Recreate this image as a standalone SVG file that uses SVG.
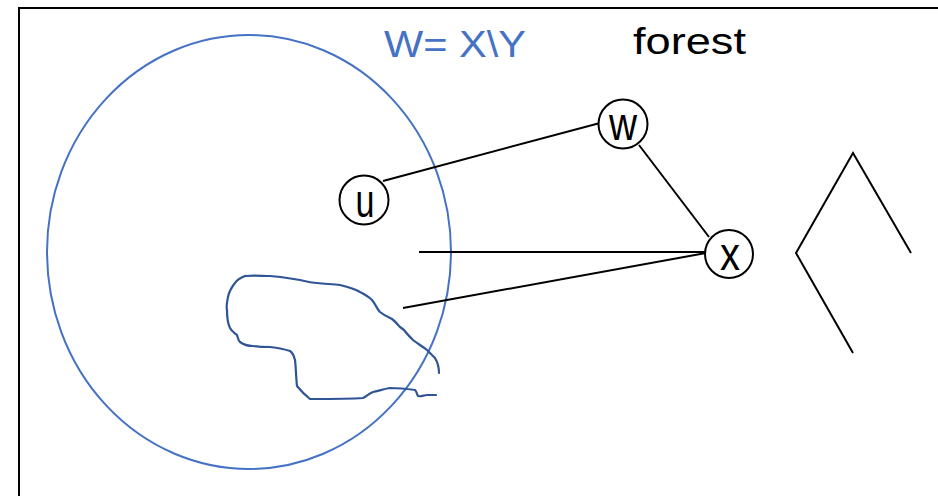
<svg xmlns="http://www.w3.org/2000/svg" width="938" height="496" viewBox="0 0 938 496">
<style>
.edge{stroke:#000;stroke-width:2;fill:none}
.node circle{fill:#fff;stroke:#000;stroke-width:2}
.node text{font-family:"Liberation Sans",Arial,sans-serif;font-size:46px;text-anchor:middle;fill:#000}
.lbl{font-family:"Liberation Sans",Arial,sans-serif;font-size:36px}
</style>
<rect x="0" y="0" width="938" height="496" fill="#fff"/>
<rect x="19" y="8" width="940" height="500" fill="none" stroke="#000" stroke-width="2"/>
<ellipse cx="249" cy="252" rx="202" ry="217" fill="none" stroke="#4472C4" stroke-width="2"/>
<text class="lbl" x="384" y="57" fill="#4472C4" textLength="142" lengthAdjust="spacingAndGlyphs">W= X\Y</text>
<text class="lbl" x="633" y="54" fill="#000" textLength="113" lengthAdjust="spacingAndGlyphs">forest</text>
<path d="M245,276 C255,275 262,276 270,276 C285,277 292,279 300,280 C308,282 312,283 317,283 C325,284 333,284 340,285 C348,287 355,289 360,292 C366,295 369,297 372,300 C376,305 377,309 380,312 C385,316 388,317 392,319 C396,322 398,325 400,327 L404,330 C407,334 410,337 413,340 C418,344 422,346 427,350 C431,354 433,356 435,358 C438,363 439,368 439,373" fill="none" stroke="#2F5597" stroke-width="2.2" stroke-linejoin="round" stroke-linecap="round"/>
<path d="M245,276 C240,278 237,280 235,283 C231,288 229,292 228,297 C227,302 226,306 227,310 C227,318 228,324 230,328 C232,332 235,333 237,335 C238,338 238,340 240,342 C244,345 248,346 253,346 C260,347 265,347 270,347 C278,348 284,349 290,351 C293,353 294,356 295,360 C296,368 296,378 297,386 C301,391 305,395 310,399 C330,399 350,399 363,398 C367,396 370,393 373,392 C378,391 384,389 390,388 C398,388 408,389 415,390 C417,392 417,395 418,396 C421,397 424,395 427,395 C430,395 433,395 436,395" fill="none" stroke="#2F5597" stroke-width="2.2" stroke-linejoin="round" stroke-linecap="round"/>
<g id="connectors">
<line class="edge" x1="383" y1="181" x2="600" y2="123"/>
<line class="edge" x1="639" y1="145" x2="709" y2="237"/>
<line class="edge" x1="419" y1="252" x2="706" y2="252"/>
<line class="edge" x1="403" y1="308" x2="706" y2="253"/>
</g>
<g id="node-u" class="node"><circle cx="364" cy="200" r="24.5"/><text x="365" y="217" textLength="19" lengthAdjust="spacingAndGlyphs">u</text></g>
<g id="node-w" class="node"><circle cx="623" cy="124" r="24.5"/><text x="623" y="140" textLength="28" lengthAdjust="spacingAndGlyphs">w</text></g>
<g id="node-x" class="node"><circle cx="729" cy="254" r="24"/><text x="730" y="270" textLength="20" lengthAdjust="spacingAndGlyphs">x</text></g>
<polyline class="edge" points="911,253 853,153 796,253 853,353"/>
</svg>
